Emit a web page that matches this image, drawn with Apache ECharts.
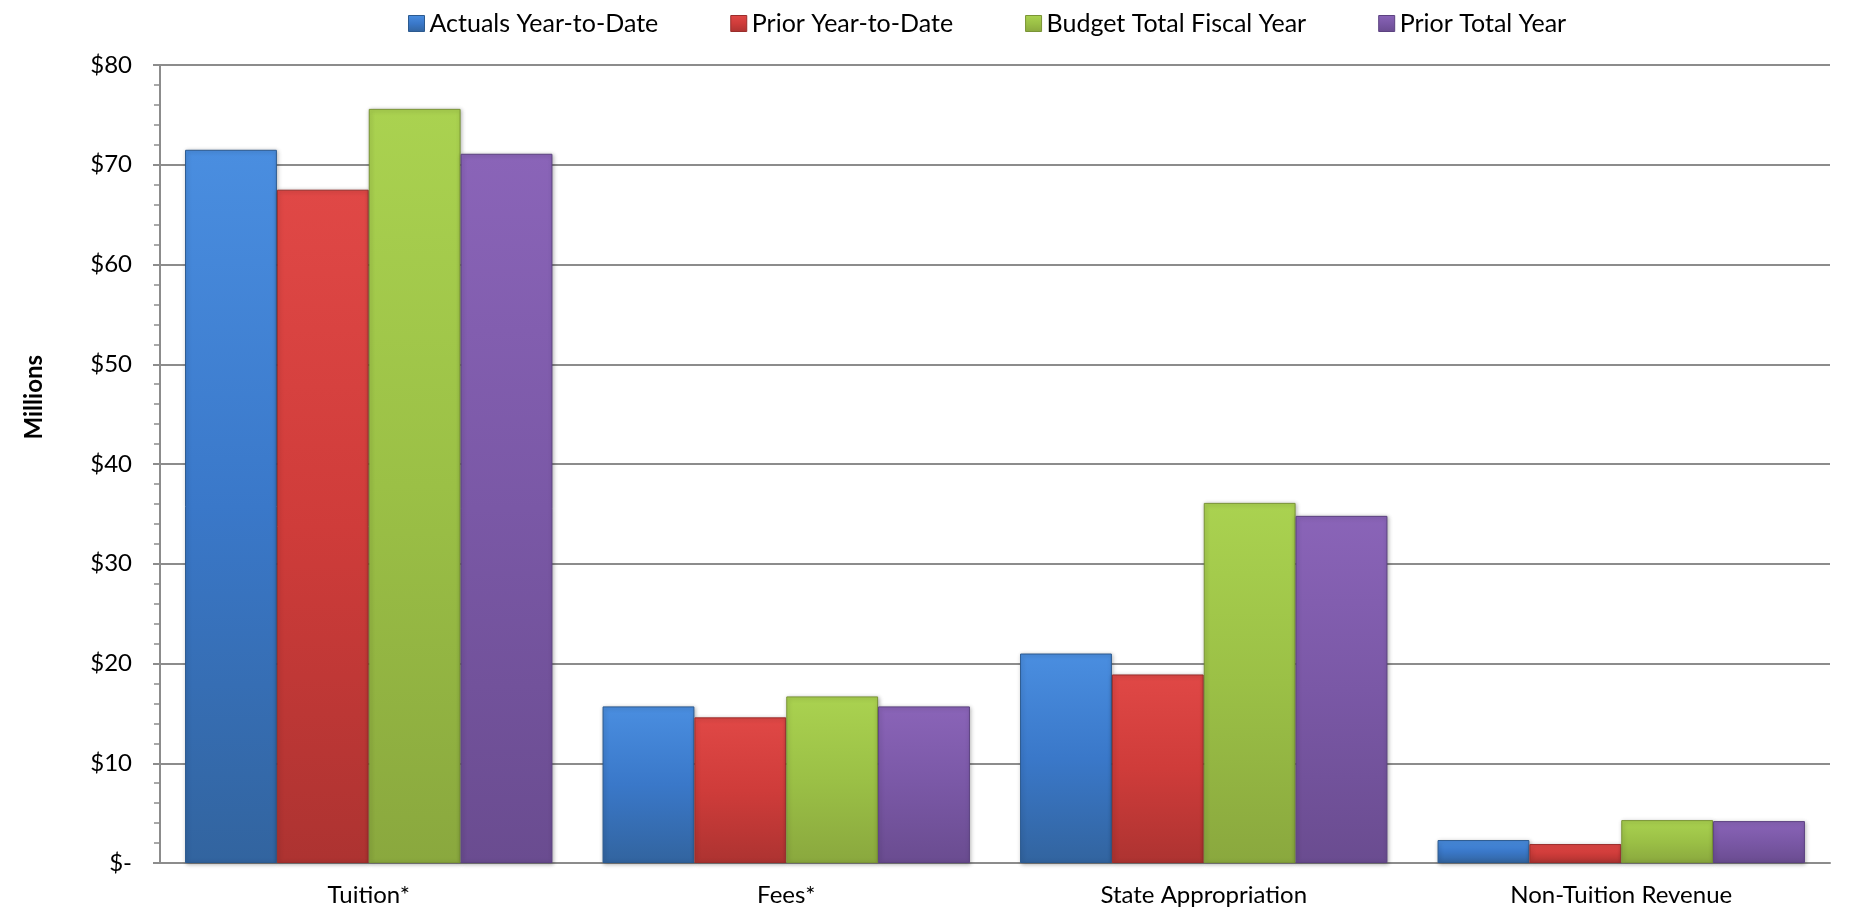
<!DOCTYPE html>
<html><head><meta charset="utf-8">
<script src="https://cdn.jsdelivr.net/npm/echarts@6/dist/echarts.min.js"></script>
<style>html,body{margin:0;padding:0;background:#fff}#c{width:1857px;height:913px}</style>
</head><body><div id="c"></div>
<script>
const categories = ['Tuition*', 'Fees*', 'State Appropriation', 'Non-Tuition Revenue'];
const seriesNames = ['Actuals Year-to-Date', 'Prior Year-to-Date', 'Budget Total Fiscal Year', 'Prior Total Year'];
const actualsYTD = [71.5, 15.7, 21.0, 2.3];
const priorYTD = [67.5, 14.6, 18.9, 1.9];
const budgetFY = [75.6, 16.7, 36.1, 4.3];
const priorTotal = [71.1, 15.7, 34.8, 4.2];
const yTicks = [0, 10, 20, 30, 40, 50, 60, 70, 80];

const colors = [
  ['#4a8ee0', '#3a78c9', '#32649f', '#2c5a8f'],
  ['#e04846', '#cf3c3a', '#ad3331', '#9a2d2b'],
  ['#aad250', '#9bc046', '#8aa83e', '#7a9436'],
  ['#8a64b8', '#7a58a6', '#6a4c90', '#5c4280']
];
const values = [actualsYTD, priorYTD, budgetFY, priorTotal];
const font = 'Lato, "Open Sans", sans-serif';

function grad(c) {
  return new echarts.graphic.LinearGradient(0, 0, 0, 1, [
    {offset: 0, color: c[0]}, {offset: 0.5, color: c[1]}, {offset: 1, color: c[2]}
  ]);
}

const chart = echarts.init(document.getElementById('c'));
chart.setOption({
  animation: false,
  backgroundColor: '#fff',
  legend: {
    top: 6, left: 403,
    itemWidth: 16, itemHeight: 16, itemGap: 72,
    textStyle: {fontFamily: font, fontSize: 25, color: '#000'},
    data: seriesNames.map((n, i) => ({name: n, icon: 'rect', itemStyle: {color: grad(colors[i]), borderColor: colors[i][3], borderWidth: 1}}))
  },
  graphic: [{
    type: 'text', left: 22, top: 355, rotation: Math.PI / 2,
    style: {text: 'Millions', fontFamily: font, fontSize: 24, fontWeight: 'bold', fill: '#000'}
  }],
  grid: {left: 160, right: 27, top: 65, bottom: 50},
  xAxis: {
    type: 'category', data: categories,
    axisLine: {lineStyle: {color: '#8c8c8c', width: 2}},
    axisTick: {show: false},
    axisLabel: {fontFamily: font, fontSize: 24, color: '#000', margin: 20}
  },
  yAxis: {
    type: 'value', min: 0, max: 80, interval: 10,
    axisLine: {show: true, lineStyle: {color: '#8c8c8c', width: 2}},
    axisTick: {show: true, inside: false, length: 7, lineStyle: {color: '#8c8c8c', width: 2}},
    minorTick: {show: true, splitNumber: 5, length: 6, lineStyle: {color: '#8c8c8c', width: 1.5}},
    splitLine: {lineStyle: {color: '#8c8c8c', width: 2}},
    axisLabel: {
      fontFamily: font, fontSize: 24, color: '#000', margin: 28,
      formatter: v => yTicks.indexOf(v) === 0 ? '$-' : '$' + v
    }
  },
  series: seriesNames.map((n, i) => ({
    name: n, type: 'bar', data: values[i],
    barGap: '0%', barCategoryGap: '12%',
    itemStyle: {
      color: grad(colors[i]), borderColor: colors[i][3], borderWidth: 1,
      shadowColor: 'rgba(0,0,0,0.3)', shadowBlur: 4, shadowOffsetX: 1, shadowOffsetY: 1
    }
  }))
});
</script></body></html>
